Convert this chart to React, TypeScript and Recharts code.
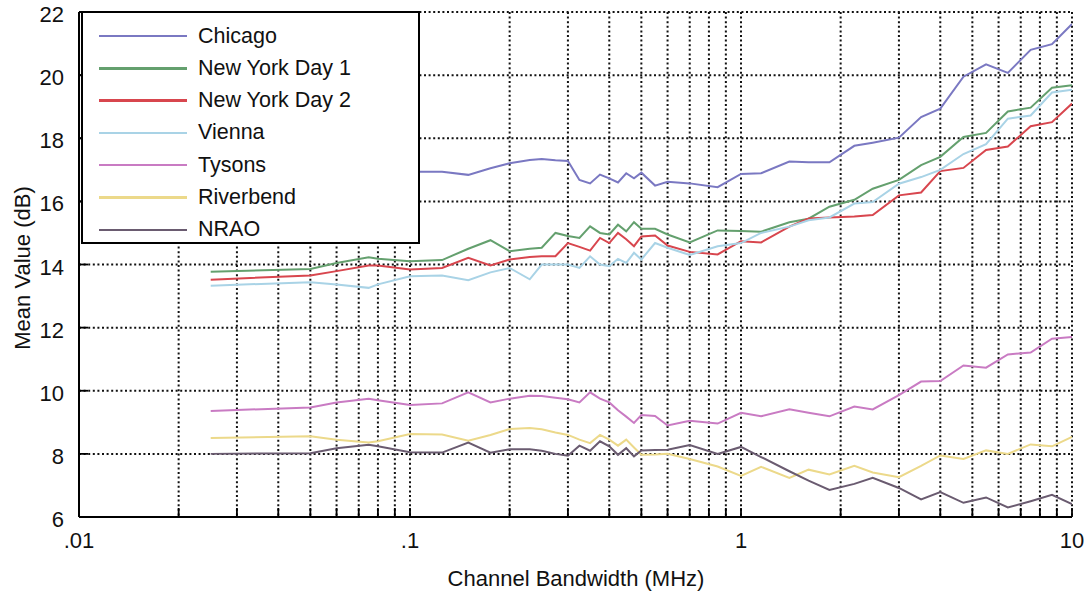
import { LineChart, Line, XAxis, YAxis, CartesianGrid } from "recharts";

// channel bandwidth in MHz (log axis)
const bandwidth = [
  0.025, 0.05, 0.06, 0.075, 0.08, 0.1, 0.125, 0.15, 0.175, 0.2, 0.23, 0.25, 0.275, 0.3,
  0.325, 0.35, 0.375, 0.4, 0.425, 0.45, 0.475, 0.5, 0.55, 0.6, 0.7, 0.85, 1.0, 1.15, 1.4,
  1.6, 1.85, 2.2, 2.5, 3, 3.5, 4, 4.7, 5.5, 6.4, 7.5, 8.7, 10,
];

const chicago = [
  16.9, 16.9, 16.9, 16.95, 16.95, 16.94, 16.94, 16.84, 17.05, 17.21, 17.31, 17.34, 17.3, 17.28,
  16.68, 16.57, 16.85, 16.73, 16.6, 16.89, 16.73, 16.91, 16.5, 16.62, 16.57, 16.45, 16.87, 16.89, 17.26,
  17.24, 17.24, 17.76, 17.86, 18.02, 18.67, 18.94, 19.95, 20.34, 20.07, 20.8, 20.98, 21.62,
];
const newYork1 = [
  13.77, 13.86, 14.05, 14.23, 14.18, 14.1, 14.14, 14.5, 14.77, 14.42, 14.5, 14.53, 15.0, 14.9,
  14.84, 15.21, 15.0, 14.95, 15.26, 15.05, 15.34, 15.13, 15.13, 14.95, 14.7, 15.08, 15.06, 15.04, 15.34,
  15.45, 15.83, 16.05, 16.4, 16.68, 17.15, 17.41, 18.04, 18.17, 18.85, 18.97, 19.6, 19.68,
];
const newYork2 = [
  13.52, 13.65, 13.79, 13.97, 13.97, 13.84, 13.89, 14.21, 13.97, 14.16, 14.24, 14.26, 14.26, 14.68,
  14.56, 14.44, 14.84, 14.68, 15.0, 14.8, 14.58, 14.89, 14.92, 14.6, 14.4, 14.32, 14.74, 14.7, 15.2,
  15.46, 15.49, 15.52, 15.57, 16.19, 16.28, 16.96, 17.06, 17.63, 17.74, 18.38, 18.51, 19.1,
];
const vienna = [
  13.33, 13.44, 13.37, 13.26, 13.37, 13.63, 13.65, 13.5, 13.75, 13.89, 13.53, 14.0, 14.0, 14.0,
  13.89, 14.26, 14.0, 13.95, 14.18, 14.05, 14.37, 14.16, 14.68, 14.53, 14.3, 14.58, 14.68, 15.0, 15.2,
  15.4, 15.49, 15.93, 15.98, 16.56, 16.77, 17.0, 17.5, 17.81, 18.62, 18.72, 19.45, 19.54,
];
const tysons = [
  9.36, 9.47, 9.63, 9.75, 9.7, 9.55, 9.6, 9.95, 9.63, 9.75, 9.84, 9.83, 9.78, 9.73,
  9.63, 9.95, 9.75, 9.63, 9.38, 9.18, 8.98, 9.23, 9.2, 8.9, 9.05, 8.96, 9.3, 9.19, 9.41,
  9.3, 9.19, 9.5, 9.41, 9.86, 10.29, 10.31, 10.8, 10.73, 11.15, 11.21, 11.65, 11.7,
];
const riverbend = [
  8.5, 8.56, 8.45, 8.36, 8.4, 8.63, 8.61, 8.42, 8.6, 8.79, 8.82, 8.78, 8.68, 8.6,
  8.45, 8.34, 8.6, 8.45, 8.26, 8.45, 8.2, 7.97, 7.98, 8.0, 7.84, 7.6, 7.3, 7.59, 7.24,
  7.5, 7.35, 7.62, 7.41, 7.26, 7.62, 7.95, 7.84, 8.11, 8.0, 8.3, 8.24, 8.54,
];
const nrao = [
  8.0, 8.02, 8.18, 8.29, 8.24, 8.05, 8.04, 8.36, 8.04, 8.15, 8.15, 8.1, 8.0, 7.94,
  8.26, 8.1, 8.4, 8.24, 7.97, 8.18, 7.92, 8.11, 8.12, 8.13, 8.28, 8.0, 8.22, 7.9, 7.45,
  7.15, 6.86, 7.05, 7.24, 6.92, 6.56, 6.79, 6.45, 6.62, 6.3, 6.5, 6.7, 6.41,
];

const series = [
  { key: "chicago", name: "Chicago", color: "#7a78c2", values: chicago },
  { key: "ny1", name: "New York Day 1", color: "#64a06e", values: newYork1 },
  { key: "ny2", name: "New York Day 2", color: "#d8464e", values: newYork2 },
  { key: "vienna", name: "Vienna", color: "#a9d3e6", values: vienna },
  { key: "tysons", name: "Tysons", color: "#c97bc3", values: tysons },
  { key: "riverbend", name: "Riverbend", color: "#ecd98a", values: riverbend },
  { key: "nrao", name: "NRAO", color: "#6a5b70", values: nrao },
];

const xTicks = [
  0.01, 0.02, 0.03, 0.04, 0.05, 0.06, 0.07, 0.08, 0.09,
  0.1, 0.2, 0.3, 0.4, 0.5, 0.6, 0.7, 0.8, 0.9,
  1, 2, 3, 4, 5, 6, 7, 8, 9, 10,
];
const yTicks = [6, 8, 10, 12, 14, 16, 18, 20, 22];

const data = bandwidth.map((bw, i) => {
  const row: Record<string, number> = { bw };
  series.forEach((s) => (row[s.key] = s.values[i]));
  return row;
});

const FONT = "'Liberation Sans', Arial, Helvetica, sans-serif";
const TICK_LEN = 9;

function decadeLabel(v: number) {
  const l = Math.log10(v);
  if (Math.abs(l - Math.round(l)) > 1e-6) return null;
  return v < 1 ? String(v).replace(/^0/, "") : String(v);
}

function BottomTick({ x, y, payload }: any) {
  const label = decadeLabel(payload.value);
  return (
    <g>
      <line x1={x} y1={y} x2={x} y2={y - TICK_LEN} stroke="#000" strokeWidth={1.8} />
      {label && (
        <text x={x} y={y + 31} textAnchor="middle" fontSize={22} fontFamily={FONT} fill="#111">
          {label}
        </text>
      )}
    </g>
  );
}

function TopTick({ x, y }: any) {
  return <line x1={x} y1={y} x2={x} y2={y + TICK_LEN} stroke="#000" strokeWidth={1.8} />;
}

function LeftTick({ x, y, payload }: any) {
  return (
    <g>
      <line x1={x} y1={y} x2={x + TICK_LEN} y2={y} stroke="#000" strokeWidth={1.8} />
      <text x={x - 15} y={y + 10} textAnchor="end" fontSize={22} fontFamily={FONT} fill="#111">
        {payload.value}
      </text>
    </g>
  );
}

function RightTick({ x, y }: any) {
  return <line x1={x} y1={y} x2={x - TICK_LEN} y2={y} stroke="#000" strokeWidth={1.8} />;
}

export default function App() {
  return (
    <div style={{ position: "absolute", left: 0, top: 0, width: 1087, height: 593, background: "#fff" }}>
      <LineChart width={1087} height={593} data={data} margin={{ top: 12, right: 15, left: 0, bottom: 0 }}>
        <CartesianGrid stroke="#111" strokeWidth={2} strokeDasharray="2 2.6" />
        <XAxis
          dataKey="bw"
          type="number"
          scale="log"
          domain={[0.01, 10]}
          allowDataOverflow
          ticks={xTicks}
          interval={0}
          height={76}
          tickSize={0}
          tickMargin={0}
          tick={<BottomTick />}
          axisLine={{ stroke: "#000", strokeWidth: 2 }}
        />
        <XAxis
          xAxisId="top"
          orientation="top"
          dataKey="bw"
          type="number"
          scale="log"
          domain={[0.01, 10]}
          allowDataOverflow
          ticks={xTicks}
          interval={0}
          height={0}
          tickSize={0}
          tickMargin={0}
          tick={<TopTick />}
          axisLine={{ stroke: "#000", strokeWidth: 2 }}
        />
        <YAxis
          type="number"
          domain={[6, 22]}
          ticks={yTicks}
          interval={0}
          width={79}
          tickSize={0}
          tickMargin={0}
          tick={<LeftTick />}
          axisLine={{ stroke: "#000", strokeWidth: 2 }}
        />
        <YAxis
          yAxisId="right"
          orientation="right"
          type="number"
          domain={[6, 22]}
          ticks={yTicks}
          interval={0}
          width={0}
          tickSize={0}
          tickMargin={0}
          tick={<RightTick />}
          axisLine={{ stroke: "#000", strokeWidth: 2 }}
        />
        {series.map((s) => (
          <Line
            key={s.key}
            type="linear"
            dataKey={s.key}
            name={s.name}
            stroke={s.color}
            strokeWidth={2}
            dot={false}
            activeDot={false}
            isAnimationActive={false}
          />
        ))}
        <text
          x={30}
          y={268}
          transform="rotate(-90, 30, 268)"
          textAnchor="middle"
          fontSize={22}
          fontFamily={FONT}
          fill="#111"
        >
          Mean Value (dB)
        </text>
        <text x={576} y={586} textAnchor="middle" fontSize={22} fontFamily={FONT} fill="#111">
          Channel Bandwidth (MHz)
        </text>
      </LineChart>

      <div
        style={{
          position: "absolute",
          left: 81,
          top: 11,
          width: 339,
          height: 233,
          boxSizing: "border-box",
          border: "2px solid #000",
          background: "#fff",
          fontFamily: FONT,
          fontSize: 21.5,
          color: "#111",
        }}
      >
        {series.map((s, i) => (
          <div
            key={s.key}
            style={{
              position: "absolute",
              left: 0,
              top: 7 + i * 32.3,
              height: 32,
              display: "flex",
              alignItems: "center",
              whiteSpace: "nowrap",
            }}
          >
            <div style={{ marginLeft: 16, width: 88, height: 2.5, background: s.color }} />
            <span style={{ marginLeft: 11 }}>{s.name}</span>
          </div>
        ))}
      </div>
    </div>
  );
}
